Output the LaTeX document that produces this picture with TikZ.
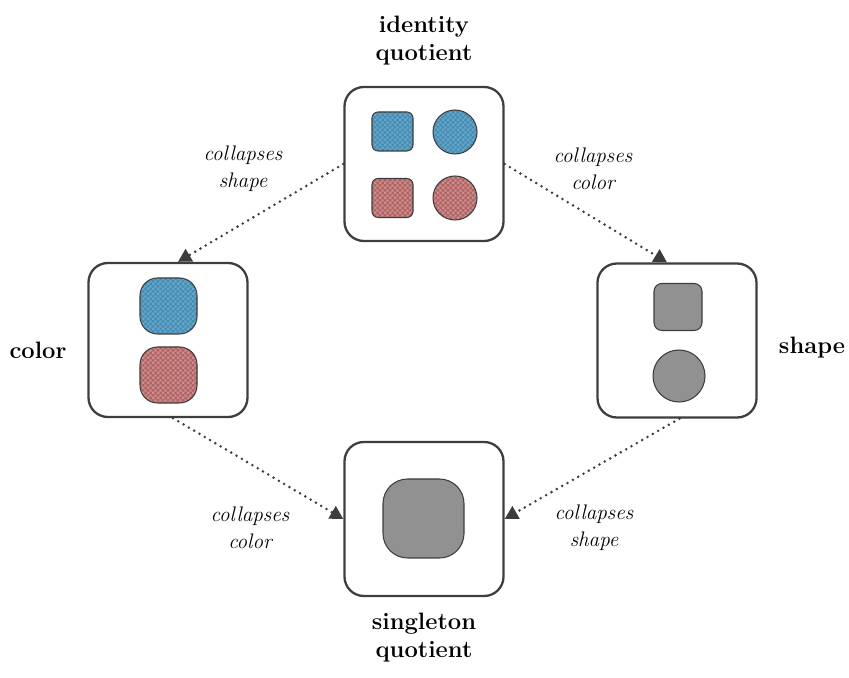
\documentclass[tikz,border=0pt]{standalone}
\definecolor{edgegray}{RGB}{62, 62, 62}
\definecolor{dotgray}{RGB}{60, 60, 60}
\definecolor{tileblue}{RGB}{72, 140, 176}
\definecolor{checkblue}{RGB}{100, 168, 206}
\definecolor{tilered}{RGB}{170, 102, 102}
\definecolor{checkred}{RGB}{212, 140, 138}
\definecolor{flatgray}{RGB}{145, 145, 145}
\usepackage{tikz}
\usetikzlibrary{arrows.meta, positioning, calc, patterns}

% a finer checkerboard than the library one
\pgfdeclarepatternformonly{finecheck}{\pgfpointorigin}{\pgfqpoint{3pt}{3pt}}{\pgfqpoint{3pt}{3pt}}{%
  \pgfpathrectangle{\pgfpointorigin}{\pgfqpoint{1.5pt}{1.5pt}}%
  \pgfpathrectangle{\pgfqpoint{1.5pt}{1.5pt}}{\pgfqpoint{1.5pt}{1.5pt}}%
  \pgfusepath{fill}}

\tikzset{
  panel/.style={draw=edgegray, line width=1.3pt, fill=white, rounded corners=11pt,
    minimum width=3.18cm, minimum height=3.08cm, inner sep=0pt},
  collapse/.style={draw=dotgray, line width=1.6pt, line cap=round,
    dash pattern=on 0pt off 3.5pt, -{Triangle[length=7.5pt, width=8pt, line cap=butt]}},
  steplabel/.style={font=\fontsize{12}{15.5}\selectfont\itshape, align=center},
  panellabel/.style={font=\fontsize{13.5}{16}\selectfont\bfseries, align=center},
  item/.style={draw=edgegray, line width=0.6pt},
  bluetile/.style={item, preaction={fill=tileblue}, pattern=finecheck, pattern color=checkblue},
  redtile/.style={item, preaction={fill=tilered}, pattern=finecheck, pattern color=checkred},
  graytile/.style={item, fill=flatgray}
}

\begin{document}
\begin{tikzpicture}
  \useasboundingbox (0,0) rectangle (16.98,13.54);

  % Panels
  \node[panel] (identity) at (8.48, 10.26) {};
  \node[panel] (color) at (3.36, 6.74) {};
  \node[panel] (shape) at (13.54, 6.73) {};
  \node[panel] (singleton) at (8.48, 3.16) {};

  % Identity quotient: all four kept apart
  \draw[bluetile, rounded corners=3.5pt] (7.44, 10.52) rectangle (8.26, 11.30);
  \draw[bluetile] (9.10, 10.90) circle (0.44);
  \draw[redtile, rounded corners=3.5pt] (7.44, 9.19) rectangle (8.26, 9.97);
  \draw[redtile] (9.10, 9.58) circle (0.44);

  % Colour quotient
  \draw[bluetile, rounded corners=10pt] (2.80, 6.86) rectangle (3.94, 7.98);
  \draw[redtile, rounded corners=10pt] (2.80, 5.48) rectangle (3.94, 6.60);

  % Shape quotient
  \draw[graytile, rounded corners=4.5pt] (13.08, 6.93) rectangle (14.04, 7.87);
  \draw[graytile] (13.58, 6.02) circle (0.52);

  % Singleton quotient
  \draw[graytile, rounded corners=14pt] (7.66, 2.38) rectangle (9.28, 3.96);

  % Panel labels
  \node[panellabel] (identitylbl) at (8.48, 12.72) {identity\\quotient};
  \node[panellabel] (colorlbl) at (0.76, 6.54) {color};
  \node[panellabel] (shapelbl) at (16.24, 6.58) {shape};
  \node[panellabel] (singletonlbl) at (8.48, 0.78) {singleton\\quotient};

  % Collapsing maps
  \draw[collapse] (identity.west) -- ([xshift=2mm]color.north);
  \draw[collapse] (identity.east) -- ([xshift=-2mm]shape.north);
  \draw[collapse] ([xshift=1mm]color.south) -- (singleton.west);
  \draw[collapse] ([xshift=0.5mm]shape.south) -- (singleton.east);

  \node[steplabel] (cshape1) at (4.86, 10.16) {collapses\\shape};
  \node[steplabel] (ccolor1) at (11.86, 10.16) {collapses\\color};
  \node[steplabel] (ccolor2) at (5.00, 2.98) {collapses\\color};
  \node[steplabel] (cshape2) at (11.88, 2.98) {collapses\\shape};
\end{tikzpicture}
\end{document}
